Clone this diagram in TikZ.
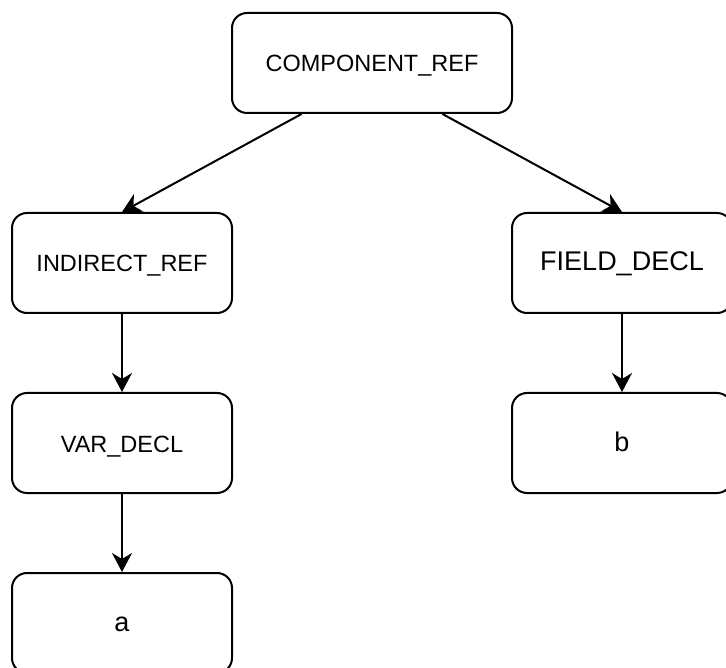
\documentclass[tikz,border=0pt]{standalone}
\usepackage{fontspec}
\setmainfont{Liberation Sans}
\usetikzlibrary{arrows.meta,calc}

\tikzset{
  treebox/.style={draw=black, line width=2pt, rounded corners=15pt, fill=white,
    minimum width=220pt, minimum height=100pt, inner sep=0pt, align=center,
    text height=18pt, text depth=0pt,
    font=\fontsize{23.5}{28}\selectfont},
  bigtext/.style={font=\fontsize{27}{32}\selectfont, text height=16pt},
  link/.style={draw=black, line width=2pt,
    -{Stealth[length=19pt, width=20pt, inset=6pt]}}
}

\begin{document}
\begin{tikzpicture}[x=1pt, y=-1pt]
  \useasboundingbox (0,0) rectangle (726,668);
  \clip (0,0) rectangle (726,668);

  % tree nodes
  \node[treebox, minimum width=280pt] (comp) at (372,63) {COMPONENT\_REF};
  \node[treebox] (indir) at (122,263) {INDIRECT\_REF};
  \node[treebox, bigtext] (field) at (622,263) {FIELD\_DECL};
  \node[treebox] (var) at (122,443) {VAR\_DECL};
  \node[treebox, bigtext] (b) at (622,443) {b};
  \node[treebox, bigtext] (a) at (122,623) {a};

  % edges
  \draw[link] ($(comp.south)!0.5!(comp.south west)$) -- (indir.north);
  \draw[link] ($(comp.south)!0.5!(comp.south east)$) -- (field.north);
  \draw[link] (indir.south) -- (var.north);
  \draw[link] (var.south) -- (a.north);
  \draw[link] (field.south) -- (b.north);
\end{tikzpicture}
\end{document}
